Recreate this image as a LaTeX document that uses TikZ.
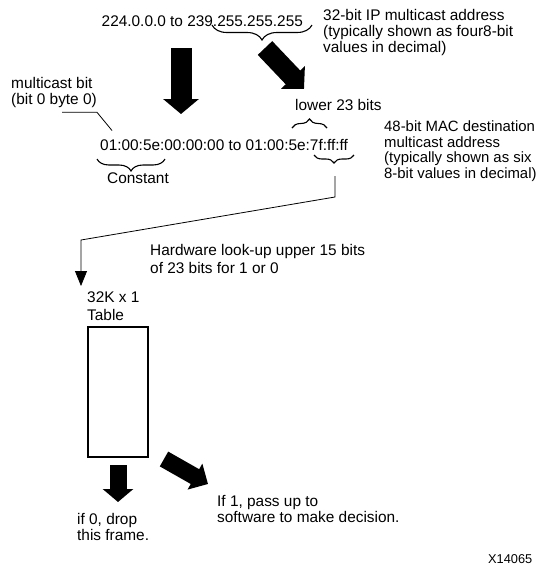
\documentclass[tikz,border=0pt]{standalone}
\usepackage{fontspec}
\setmainfont{Liberation Sans}
\usetikzlibrary{arrows.meta,decorations.pathreplacing}
\begin{document}
\begin{tikzpicture}[x=1pt,y=-1pt,
  txt/.style={anchor=base west,inner sep=0pt,align=left,font=\fontsize{15.4}{15.7}\selectfont},
  txtwide/.style={txt,font=\fontsize{15.4}{18}\selectfont},
  bigarrow/.style={line width=21pt,-{Triangle[width=35pt,length=15pt]}},
  smallarrow/.style={line width=17pt,-{Triangle[width=30pt,length=13pt]}},
  bracestyle/.style={decorate,decoration={brace,amplitude=#1},line width=1.1pt},
  thinline/.style={line width=0.8pt},
  tablebox/.style={draw,line width=1.6pt,inner sep=0pt,minimum width=60pt,minimum height=130pt}
]
\useasboundingbox (0,0) rectangle (538,566);

% texts (base anchor = baseline of the last line)
\node[txt] (ip) at (101.5,26.7) {224.0.0.0 to 239.255.255.255};
\node[txt] (ipdesc) at (323,52.1) {32-bit IP multicast address\\(typically shown as four8-bit\\values in decimal)};
\node[txt] (mcbit) at (11,104.2) {multicast bit\\(bit 0 byte 0)};
\node[txt] (mac) at (100,150) {01:00:5e:00:00:00 to 01:00:5e:7f:ff:ff};
\node[txt] (const) at (107,183) {Constant};
\node[txt] (lower) at (295,110.5) {lower 23 bits};
\node[txt,font=\fontsize{14.9}{15.7}\selectfont] (macdesc) at (384,178.6) {48-bit MAC destination\\multicast address\\(typically shown as six\\8-bit values in decimal)};
\node[txtwide] (hw) at (150,273) {Hardware look-up upper 15 bits\\of 23 bits for 1 or 0};
\node[txtwide] (tbllabel) at (87,320) {32K x 1\\Table};
\node[txt] (if1) at (217,522) {If 1, pass up to\\software to make decision.};
\node[txt] (if0) at (77,540.5) {if 0, drop\\this frame.};
\node[txt,font=\fontsize{12.8}{14}\selectfont] (fig) at (488,563) {X14065};

% table
\node[tablebox] (table) at (118,392) {};

% braces
\draw[bracestyle=15pt] (312,25) -- (212,25);
\draw[bracestyle=12pt] (165,159) -- (97,159);
\draw[bracestyle=9pt] (292,128) -- (327,128);
\draw[bracestyle=8pt] (354,155) -- (314,155);

% big arrows
\coordinate (a1s) at (181,48);
\coordinate (a1e) at (181,114);
\draw[bigarrow] (a1s) -- (a1e);
\coordinate (a2s) at (265,48);
\coordinate (a2e) at (304,89);
\draw[line width=20pt,-{Triangle[width=32pt,length=16pt]}] (a2s) -- (a2e);
\coordinate (a3s) at (118,465);
\coordinate (a3e) at (118,502);
\draw[smallarrow] (a3s) -- (a3e);
\coordinate (a4s) at (164,459);
\coordinate (a4e) at (208,484);
\draw[line width=17pt,-{Triangle[width=29pt,length=15pt]}] (a4s) -- (a4e);

% leader for multicast bit
\coordinate (l1) at (62,112.3);
\coordinate (l2) at (97,112.3);
\coordinate (l3) at (112,130.5);
\draw[thinline] (l1) -- (l2) -- (l3);

% connector to table
\coordinate (c1) at (335,176);
\coordinate (c2) at (335,197);
\coordinate (c3) at (81,240);
\coordinate (c4) at (81,286);
\draw[thinline,-{Triangle[width=12pt,length=15pt]}] (c1) -- (c2) -- (c3) -- (c4);
\end{tikzpicture}
\end{document}
